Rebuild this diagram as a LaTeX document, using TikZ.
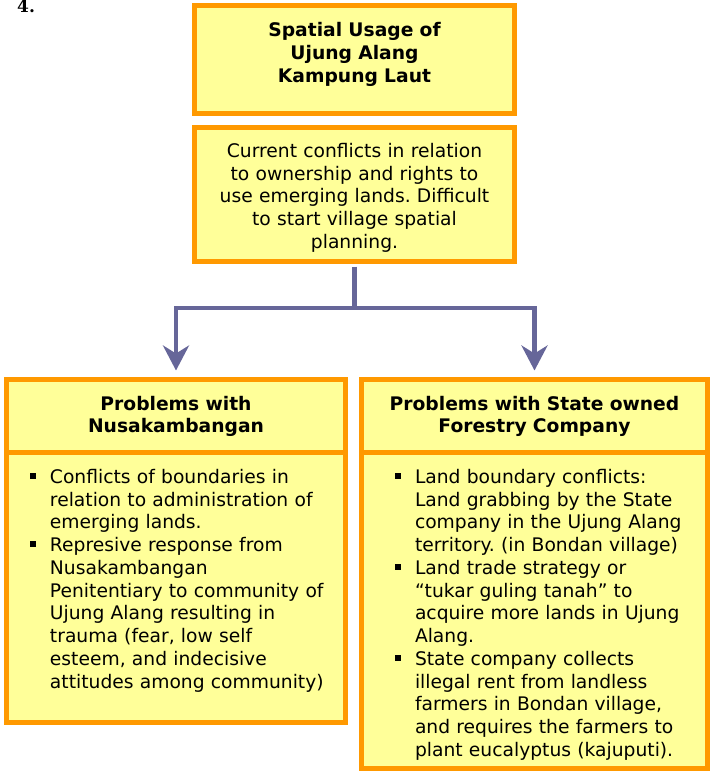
\documentclass[tikz,border=0pt]{standalone}
\usepackage{fontspec}
\newfontfamily\verdana{DejaVu Sans}
\newfontfamily\numfont{DejaVu Serif}
\usetikzlibrary{arrows.meta}
\definecolor{boxorange}{HTML}{FF9900}
\definecolor{boxfill}{HTML}{FFFF99}
\definecolor{linkblue}{HTML}{666699}
\frenchspacing
% square bullet hanging left of the text
\newcommand\bul{\leavevmode\llap{\makebox[20.5pt][l]{\rule[4.5pt]{6pt}{6pt}}}}
\tikzset{
  panel/.style={draw=boxorange, fill=boxfill, line width=5pt, inner sep=0pt,
    text height=14pt, font=\verdana\fontsize{18.7pt}{22.75pt}\selectfont},
  head/.style={panel, align=center},
  bold/.style={font=\verdana\bfseries\fontsize{18.7pt}{22.75pt}\selectfont},
  list/.style={panel, execute at begin node={\leftskip=#1}},
  link/.style={draw=linkblue, line width=4.5pt},
}
\begin{document}
\begin{tikzpicture}[x=1pt,y=-1pt]
\useasboundingbox (0,0) rectangle (711,772);
\node[anchor=base west, inner sep=0pt, font=\numfont\bfseries\fontsize{17pt}{20pt}\selectfont] (num) at (17,12) {4.};
\node[head, bold, minimum width=320pt, minimum height=108pt, text width=300pt, text depth=59.6pt] (usage) at (354.5,59.5)
  {Spatial Usage of\\Ujung Alang\\Kampung Laut};
\node[head, minimum width=320pt, minimum height=134pt, text width=300pt, text depth=88.4pt] (current) at (354.5,194.5)
  {Current conflicts in relation\\to ownership and rights to\\use emerging lands. Difficult\\to start village spatial\\planning.};
\node[head, bold, minimum width=339pt, minimum height=72.5pt, text width=320pt, text depth=25.5pt] (lefthead) at (176,415.75)
  {Problems with\\Nusakambangan};
\node[head, bold, minimum width=346pt, minimum height=72.5pt, text width=330pt, text depth=25.5pt] (righthead) at (534.5,415.75)
  {Problems with State owned\\Forestry Company};
\node[list=34pt, minimum width=339pt, minimum height=270.5pt, text width=320pt, text depth=221.9pt] (leftbody) at (176,587.25)
  {\bul Conflicts of boundaries in\\
  relation to administration of\\
  emerging lands.\\
  \bul Represive response from\\
  Nusakambangan\\
  Penitentiary to community of\\
  Ujung Alang resulting in\\
  trauma (fear, low self\\
  esteem, and indecisive\\
  attitudes among community)};
\node[list=40.5pt, minimum width=346pt, minimum height=316.5pt, text width=320pt, text depth=267.9pt] (rightbody) at (534.5,610.25)
  {\bul Land boundary conflicts:\\
  Land grabbing by the State\\
  company in the Ujung Alang\\
  territory. (in Bondan village)\\
  \bul Land trade strategy or\\
  “tukar guling tanah” to\\
  acquire more lands in Ujung\\
  Alang.\\
  \bul State company collects\\
  illegal rent from landless\\
  farmers in Bondan village,\\
  and requires the farmers to\\
  plant eucalyptus (kajuputi).};
\coordinate (fork) at (354.5,308);
\draw[link, shorten <=2.5pt, shorten >=6.5pt, -{Stealth[length=25pt, width=26pt, inset=8pt]}]
  (current.south) -- (fork) -| (lefthead.north);
\draw[link, shorten >=6.5pt, -{Stealth[length=25pt, width=26pt, inset=8pt]}]
  (fork) -| (righthead.north);
\end{tikzpicture}
\end{document}
